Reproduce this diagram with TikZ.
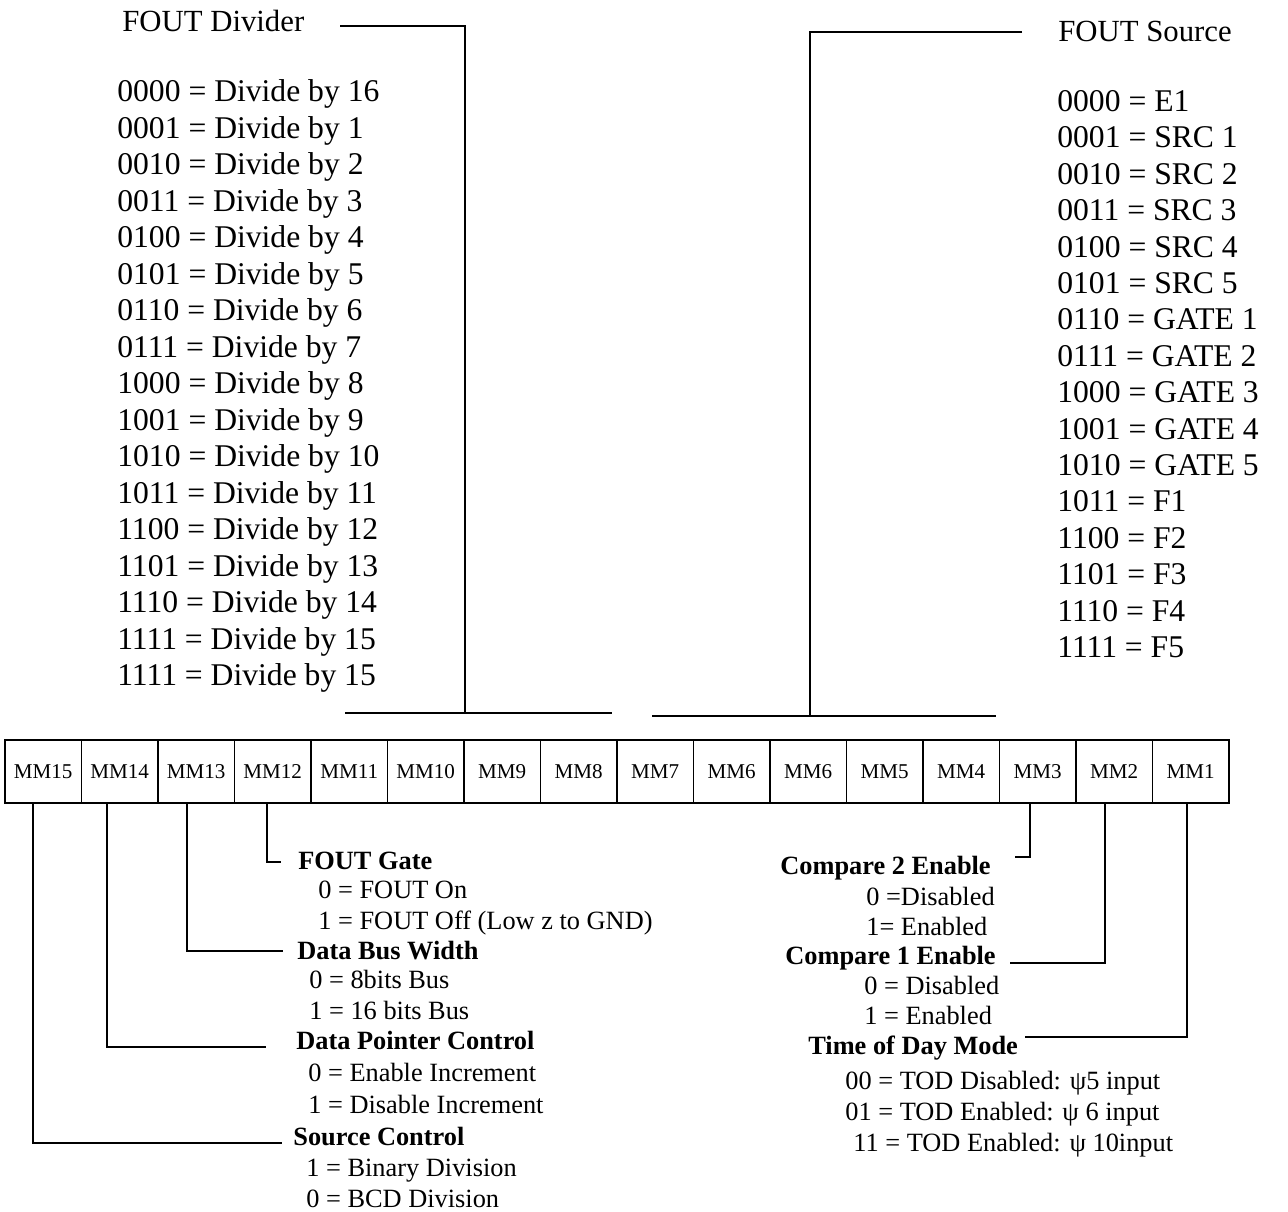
\documentclass[tikz,border=0pt]{standalone}
\usepackage{fontspec}
\setmainfont{Liberation Serif}
\usetikzlibrary{calc}
\begin{document}
\begin{tikzpicture}[x=0.02cm,y=-0.02cm,
  lst/.style={anchor=base west, inner sep=0pt, font=\fontsize{18}{20}\selectfont},
  hdr/.style={anchor=base west, inner sep=0pt, font=\fontsize{17.5}{20}\selectfont},
  bl/.style={anchor=base west, inner sep=0pt, font=\fontsize{15}{17}\selectfont},
  bh/.style={anchor=base west, inner sep=0pt, font=\fontsize{15}{17}\selectfont\bfseries},
  cell/.style={draw, line width=0.8pt, minimum width=1.53cm, minimum height=1.26cm, inner sep=0pt, font=\fontsize{12}{14}\selectfont},
  wire/.style={line width=1pt}]
\useasboundingbox (0,0) rectangle (1288,1212);

% register cells
\foreach \lab [count=\i] in {MM15,MM14,MM13,MM12,MM11,MM10,MM9,MM8,MM7,MM6,MM6,MM5,MM4,MM3,MM2,MM1}
  \node[cell] (c\i) at ({5+76.5*(\i-0.5)},771.5) {\lab};

% FOUT Divider
\node[hdr] (hdiv) at (122,31.6) {FOUT Divider};
\foreach \t [count=\i] in {0000 = Divide by 16,0001 = Divide by 1,0010 = Divide by 2,0011 = Divide by 3,0100 = Divide by 4,0101 = Divide by 5,0110 = Divide by 6,0111 = Divide by 7,1000 = Divide by 8,1001 = Divide by 9,1010 = Divide by 10,1011 = Divide by 11,1100 = Divide by 12,1101 = Divide by 13,1110 = Divide by 14,1111 = Divide by 15,1111 = Divide by 15}
  \node[lst] (dv\i) at (117,{101.6+36.5*(\i-1)}) {\t};

% FOUT Source
\node[hdr] (hsrc) at (1058,41.6) {FOUT Source};
\foreach \t [count=\i] in {0000 = E1,0001 = SRC 1,0010 = SRC 2,0011 = SRC 3,0100 = SRC 4,0101 = SRC 5,0110 = GATE 1,0111 = GATE 2,1000 = GATE 3,1001 = GATE 4,1010 = GATE 5,1011 = F1,1100 = F2,1101 = F3,1110 = F4,1111 = F5}
  \node[lst] (sr\i) at (1057,{111.6+36.4*(\i-1)}) {\t};

% top connectors
\coordinate (dvA) at (340,26);
\coordinate (barLa) at (345,713);
\coordinate (barLm) at (465,713);
\coordinate (barLb) at (612,713);
\draw[wire] (dvA) -| (barLm);
\draw[wire] (barLa) -- (barLb);
\coordinate (srA) at (1022,32);
\coordinate (barRa) at (652,716);
\coordinate (barRm) at (810,716);
\coordinate (barRb) at (996,716);
\draw[wire] (srA) -| (barRm);
\draw[wire] (barRa) -- (barRb);

% bottom-left labels
\node[bh] (gate) at (298,869) {FOUT Gate};
\node[bl] (gate0) at (318,898) {0 = FOUT On};
\node[bl] (gate1) at (318,929) {1 = FOUT Off (Low z to GND)};
\node[bh] (dbw) at (297,959) {Data Bus Width};
\node[bl] (dbw0) at (309,988) {0 = 8bits Bus};
\node[bl] (dbw1) at (309,1019) {1 = 16 bits Bus};
\node[bh] (dpc) at (296,1049) {Data Pointer Control};
\node[bl] (dpc0) at (308,1081) {0 = Enable Increment};
\node[bl] (dpc1) at (308,1113) {1 = Disable Increment};
\node[bh] (src) at (293,1145) {Source Control};
\node[bl] (src1) at (306,1176) {1 = Binary Division};
\node[bl] (src0) at (306,1207) {0 = BCD Division};

% bottom-right labels
\node[bh] (cmp2) at (780,874) {Compare 2 Enable};
\node[bl] (cmp20) at (866,905) {0 =Disabled};
\node[bl] (cmp21) at (866,935) {1= Enabled};
\node[bh] (cmp1) at (785,964) {Compare 1 Enable};
\node[bl] (cmp10) at (864,994) {0 = Disabled};
\node[bl] (cmp11) at (864,1024) {1 = Enabled};
\node[bh] (tod) at (808,1054) {Time of Day Mode};
\node[bl] (tod0) at (845,1089) {00 = TOD Disabled: ψ5 input};
\node[bl] (tod1) at (845,1120) {01 = TOD Enabled: ψ 6 input};
\node[bl] (tod2) at (853,1151) {11 = TOD Enabled: ψ 10input};

% bottom connectors
\coordinate (e12) at (281,862);
\coordinate (e13) at (283,951);
\coordinate (e14) at (266,1047);
\coordinate (e15) at (282,1143);
\draw[wire] ($(c4.south)+(-6,0)$) |- (e12);
\draw[wire] ($(c3.south)+(-9,0)$) |- (e13);
\draw[wire] ($(c2.south)+(-13,0)$) |- (e14);
\draw[wire] ($(c1.south)+(-10,0)$) |- (e15);
\coordinate (e3) at (1015,857);
\coordinate (e2) at (1010,963);
\coordinate (e1) at (1025,1037);
\draw[wire] ($(c14.south)+(-8,0)$) |- (e3);
\draw[wire] ($(c15.south)+(-9,0)$) |- (e2);
\draw[wire] ($(c16.south)+(-4,0)$) |- (e1);
\end{tikzpicture}
\end{document}
